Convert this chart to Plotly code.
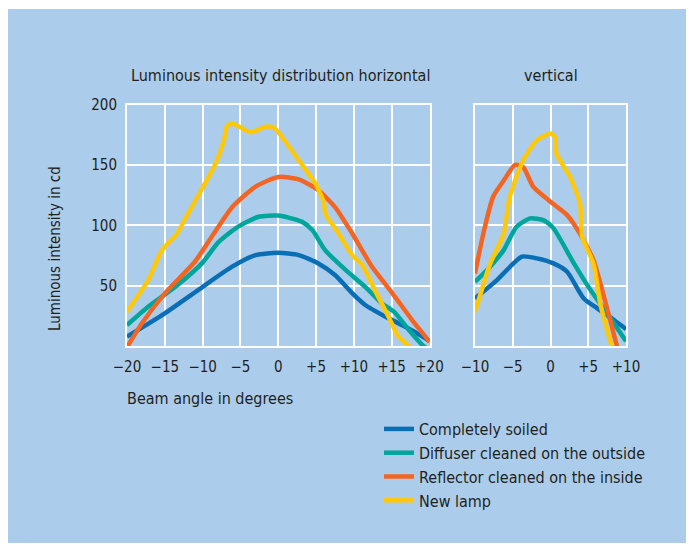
import plotly.graph_objects as go

# ---- data ----
series_names = ["Completely soiled", "Diffuser cleaned on the outside",
                "Reflector cleaned on the inside", "New lamp"]
series_colors = ["#0a6eb5", "#00a69c", "#f26522", "#ffc90a"]

# horizontal distribution
h_soiled_x = [-20, -15, -10.6, -6.1, -3.0, 0, 2.7, 5.3, 7.5, 9.8, 11.5, 14.2, 16.8, 19.8, 20]
h_soiled_y = [7.7, 27, 46.3, 65.7, 75.3, 77.2, 75.3, 68.4, 58.8, 43.6, 34, 24.3, 16, 5, 4]

h_diff_x = [-20, -17.2, -13.6, -10.1, -7.9, -5.3, -2.6, 0, 3.1, 4.5, 6.2, 8.9, 11.5, 13.7, 15.3, 17.3, 19.2, 20]
h_diff_y = [17.4, 32.6, 49, 68.4, 86, 98.8, 107, 108, 103, 96, 79.4, 63, 49, 35.3, 28.4, 13, 0, -3]

h_refl_x = [-20, -18, -15, -11, -8.8, -6.1, -3.0, 0, 2.7, 5.3, 7.5, 9.8, 12.4, 15.1, 17.7, 19.8, 20]
h_refl_y = [-1, 19, 43.6, 70, 90.5, 115, 132, 140, 138, 129, 115, 93, 65.6, 43.6, 21.5, 5, 3]

h_new_x = [-20, -17.2, -15.4, -13.4, -11.9, -8.3, -7.2, -6.8, -6.4, -5.7, -3.7, -1.7, -0.6, 0.3,
           2.7, 4.9, 6.0, 6.2, 8.0, 9.8, 11.1, 12.8, 14.6, 15.9, 17.3, 18]
h_new_y = [28.4, 54.6, 79, 93, 110, 151, 170, 181.5, 184, 183.4, 177, 181.5, 181, 174.6,
           154, 134.6, 119.4, 110, 93, 75, 67, 46, 24, 7.7, 0, -5]

# vertical distribution
v_soiled_x = [-10, -7.1, -3.8, -1.8, 0.4, 2.2, 4.4, 6.2, 8.4, 10]
v_soiled_y = [39.4, 54.6, 74, 72.6, 68.4, 61.5, 39.4, 31.2, 21.5, 14]

v_diff_x = [-10, -8, -6.2, -4.5, -2.7, -0.9, 0.4, 3.1, 5.3, 7.5, 10]
v_diff_y = [53, 65.7, 79.4, 98.8, 105.7, 104, 97.4, 68.4, 46.3, 27, 4]

v_refl_x = [-10, -8.9, -7.6, -6.2, -4.7, -3.6, -2.3, 0, 2.2, 3.9, 5.7, 6.6, 7.9, 8.8, 9.2]
v_refl_y = [60, 93, 123.6, 137, 150, 148, 132, 119.4, 108.4, 93, 71, 52, 21.5, 0, -8]

v_new_x = [-10, -8, -6.2, -5.4, -3.6, -1.8, 0, 0.6, 0.8, 2.6, 3.9, 4.2, 5.7, 6.6, 8.1, 8.5]
v_new_y = [28, 68, 93, 123.6, 154, 170.5, 176, 173, 159, 140, 118, 90.5, 68, 35, 0, -8]

h_series = [(h_soiled_x, h_soiled_y), (h_diff_x, h_diff_y), (h_refl_x, h_refl_y), (h_new_x, h_new_y)]
v_series = [(v_soiled_x, v_soiled_y), (v_diff_x, v_diff_y), (v_refl_x, v_refl_y), (v_new_x, v_new_y)]

h_tickvals = [-20, -15, -10, -5, 0, 5, 10, 15, 20]
h_ticktext = ["\u221220", "\u221215", "\u221210", "\u22125", "0", "+5", "+10", "+15", "+20"]
v_tickvals = [-10, -5, 0, 5, 10]
v_ticktext = ["\u221210", "\u22125", "0", "+5", "+10"]
y_tickvals = [50, 100, 150, 200]

FONT = "Liberation Sans Narrow, DejaVu Sans Condensed, Arial Narrow, sans-serif"
TXT = "#231f20"
BG = "#abcdeb"

# the page body adds an 8px margin; the figure is sized/positioned to compensate
OFF = 8
W, H = 694 - OFF, 546 - OFF

px_x = lambda p: (p - OFF) / W
px_y = lambda p: 1 - (p - OFF) / H

fig = go.Figure()
for i, name in enumerate(series_names):
    x, y = h_series[i]
    fig.add_trace(go.Scatter(x=x, y=y, mode="lines", name=name, legendgroup=name,
                             line=dict(color=series_colors[i], width=4.5, shape="spline", smoothing=0.6),
                             xaxis="x", yaxis="y"))
for i, name in enumerate(series_names):
    x, y = v_series[i]
    fig.add_trace(go.Scatter(x=x, y=y, mode="lines", name=name, legendgroup=name, showlegend=False,
                             line=dict(color=series_colors[i], width=4.5, shape="spline", smoothing=0.6),
                             xaxis="x2", yaxis="y2"))

axis_common = dict(showgrid=True, gridcolor="white", gridwidth=2, zeroline=False,
                   showline=True, linecolor="white", linewidth=2, mirror=True, ticks="",
                   automargin=False,
                   tickfont=dict(family=FONT, size=15, color=TXT), fixedrange=True)

ydom = [px_y(346), px_y(104.5)]
fig.update_layout(
    width=W, height=H,
    margin=dict(l=0, r=0, t=0, b=0, pad=0, autoexpand=False),
    paper_bgcolor="white", plot_bgcolor=BG,
    font=dict(family=FONT, color=TXT),
    xaxis=dict(domain=[px_x(127), px_x(429.5)], range=[-20, 20], tickvals=h_tickvals,
               ticktext=h_ticktext, anchor="y", ticklabelstandoff=6, **axis_common),
    yaxis=dict(domain=ydom, range=[0, 200], tickvals=y_tickvals, anchor="x",
               ticklabelstandoff=5, **axis_common),
    xaxis2=dict(domain=[px_x(475), px_x(626)], range=[-10, 10], tickvals=v_tickvals,
                ticktext=v_ticktext, anchor="y2", ticklabelstandoff=6, **axis_common),
    yaxis2=dict(domain=ydom, range=[0, 200], tickvals=y_tickvals, showticklabels=False,
                anchor="x2", **axis_common),
    legend=dict(x=px_x(379), y=px_y(412), xanchor="left", yanchor="top",
                bgcolor="rgba(0,0,0,0)", font=dict(family=FONT, size=16, color=TXT),
                tracegroupgap=0, itemwidth=30),
    shapes=[dict(type="rect", xref="paper", yref="paper", x0=0, x1=1,
                 y0=px_y(543), y1=px_y(9), fillcolor=BG, line=dict(width=0), layer="below")],
    annotations=[
        dict(text="Luminous intensity distribution horizontal", xref="paper", yref="paper",
             x=px_x(280.5), y=px_y(75), xanchor="center", yanchor="middle", showarrow=False,
             font=dict(size=16, family=FONT, color=TXT)),
        dict(text="vertical", xref="paper", yref="paper",
             x=px_x(551), y=px_y(75), xanchor="center", yanchor="middle", showarrow=False,
             font=dict(size=16, family=FONT, color=TXT)),
        dict(text="Luminous intensity in cd", xref="paper", yref="paper", textangle=-90,
             x=px_x(55), y=px_y(248), xanchor="center", yanchor="middle", showarrow=False,
             font=dict(size=15, family=FONT, color=TXT)),
        dict(text="Beam angle in degrees", xref="paper", yref="paper", xanchor="left",
             yanchor="middle", x=px_x(125), y=px_y(398), showarrow=False,
             font=dict(size=16, family=FONT, color=TXT)),
    ],
)

fig.write_html("out.html")
